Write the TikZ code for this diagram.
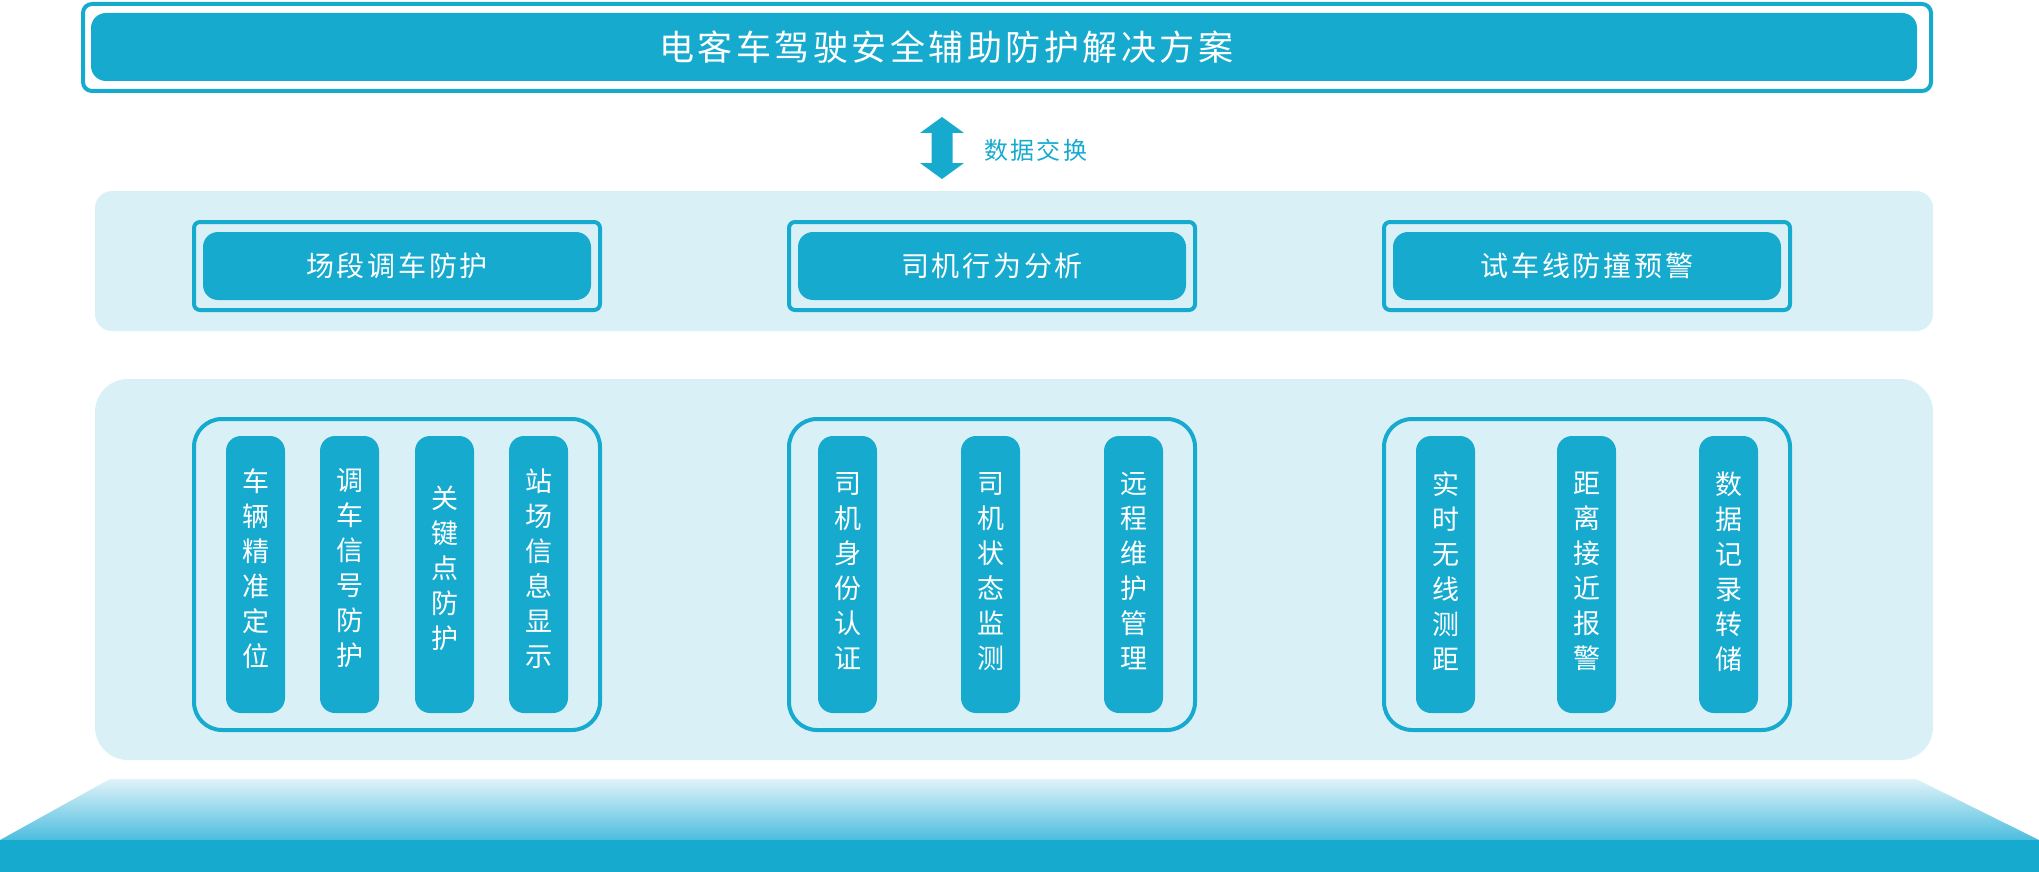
\documentclass[tikz,border=0pt]{standalone}
\usepackage{fontspec}
\newfontfamily\cjk[LetterSpace=10]{Noto Sans CJK SC}
\newfontfamily\cjkv{Noto Sans CJK SC}
\usetikzlibrary{calc}
\usetikzlibrary{positioning}
\usepackage{xcolor}

\definecolor{mainblue}{RGB}{22,170,207}
\definecolor{bandblue}{RGB}{218,240,247}
\definecolor{platlight}{RGB}{224,243,249}
\definecolor{platdark}{RGB}{76,189,222}

\tikzset{
  bandbox/.style={fill=bandblue, rounded corners=17pt},
  framebox/.style={draw=mainblue, line width=4pt, fill=bandblue, rounded corners=6pt, inner sep=0pt},
  headbox/.style={fill=mainblue, rounded corners=15pt, inner sep=0pt, text=white,
    font=\cjk\fontsize{28}{30}\selectfont},
  itembox/.style={fill=mainblue, rounded corners=15pt, minimum width=59pt, minimum height=277pt,
    inner sep=0pt, text=white, align=center, font=\cjkv\fontsize{27}{35}\selectfont},
}

\begin{document}
\begin{tikzpicture}[x=1pt,y=-1pt]

        \useasboundingbox (0,0) rectangle (2039,872);

        % Title
        \node[draw=mainblue, line width=4pt, fill=white, rounded corners=9pt,
          minimum width=1848pt, minimum height=87pt, inner sep=0pt] (header) at (1007,47.5) {};
        \node[fill=mainblue, rounded corners=15pt, minimum width=1826pt, minimum height=68pt,
          inner sep=0pt] (headinner) at (1004,47) {};
        \node[text=white, inner sep=0pt, font=\cjk\fontsize{35}{38}\selectfont]
          (title) at ($(headinner.center)+(-58,0)$) {电客车驾驶安全辅助防护解决方案};

        % Data exchange arrow
        \coordinate (xchg) at (942,148);
        \fill[mainblue] ($(xchg)+(0,-31)$) -- ++(22,16) -- ++(-11.5,0) -- ++(0,30) -- ++(11.5,0)
          -- ++(-22,16) -- ++(-22,-16) -- ++(11.5,0) -- ++(0,-30) -- ++(-11.5,0) -- cycle;
        \node[anchor=west, inner sep=0pt, text=mainblue, font=\cjk\fontsize{24}{26}\selectfont]
          (xchglabel) at ($(xchg)+(42,2)$) {数据交换};

        % Function band
        \fill[bandbox] (95,191) rectangle (1933,331);
        \foreach \x/\name/\t in {397/yard/场段调车防护, 992/driver/司机行为分析, 1587/track/试车线防撞预警}
        {
          \node[framebox, minimum width=406pt, minimum height=88pt] (\name frame) at (\x,266) {};
          \node[headbox, minimum width=388pt, minimum height=68pt] (\name) at (\x,266) {\t};
        }

        % Module band
        \fill[bandbox, rounded corners=33pt] (95,379) rectangle (1933,760);
        \foreach \x/\name in {397/yard, 992/driver, 1587/track}
          \node[framebox, rounded corners=28pt, minimum width=406pt, minimum height=311pt]
            (\name box) at (\x,574.5) {};

        % Yard modules
        \foreach \x/\t [count=\i] in {255.5/{车\\辆\\精\\准\\定\\位}, 349.5/{调\\车\\信\\号\\防\\护},
                                      444.5/{关\\键\\点\\防\\护}, 538.5/{站\\场\\信\\息\\显\\示}}
        {
          \node[itembox] (yard\i) at (\x,574.5) {};
          \node[text=white, align=center, inner sep=0pt, font=\cjkv\fontsize{27}{35}\selectfont]
            at ($(yard\i.center)+(0,-6)$) {\t};
        }

        % Driver modules
        \foreach \x/\t [count=\i] in {847.5/{司\\机\\身\\份\\认\\证}, 990.5/{司\\机\\状\\态\\监\\测},
                                      1133.5/{远\\程\\维\\护\\管\\理}}
        {
          \node[itembox] (driver\i) at (\x,574.5) {};
          \node[text=white, align=center, inner sep=0pt, font=\cjkv\fontsize{27}{35}\selectfont]
            at ($(driver\i.center)+(0,-3)$) {\t};
        }

        % Track modules
        \foreach \x/\t [count=\i] in {1445.5/{实\\时\\无\\线\\测\\距}, 1586.5/{距\\离\\接\\近\\报\\警},
                                      1728.5/{数\\据\\记\\录\\转\\储}}
        {
          \node[itembox] (track\i) at (\x,574.5) {};
          \node[text=white, align=center, inner sep=0pt, font=\cjkv\fontsize{27}{35}\selectfont]
            at ($(track\i.center)+(0,-3)$) {\t};
        }

        % Platform
        \shade[top color=platlight, bottom color=platdark] (110,779) -- (1916,779) -- (2039,840)
          -- (0,840) -- cycle;
        \fill[mainblue] (0,840) rectangle (2039,872);

    \end{tikzpicture}
\end{document}
